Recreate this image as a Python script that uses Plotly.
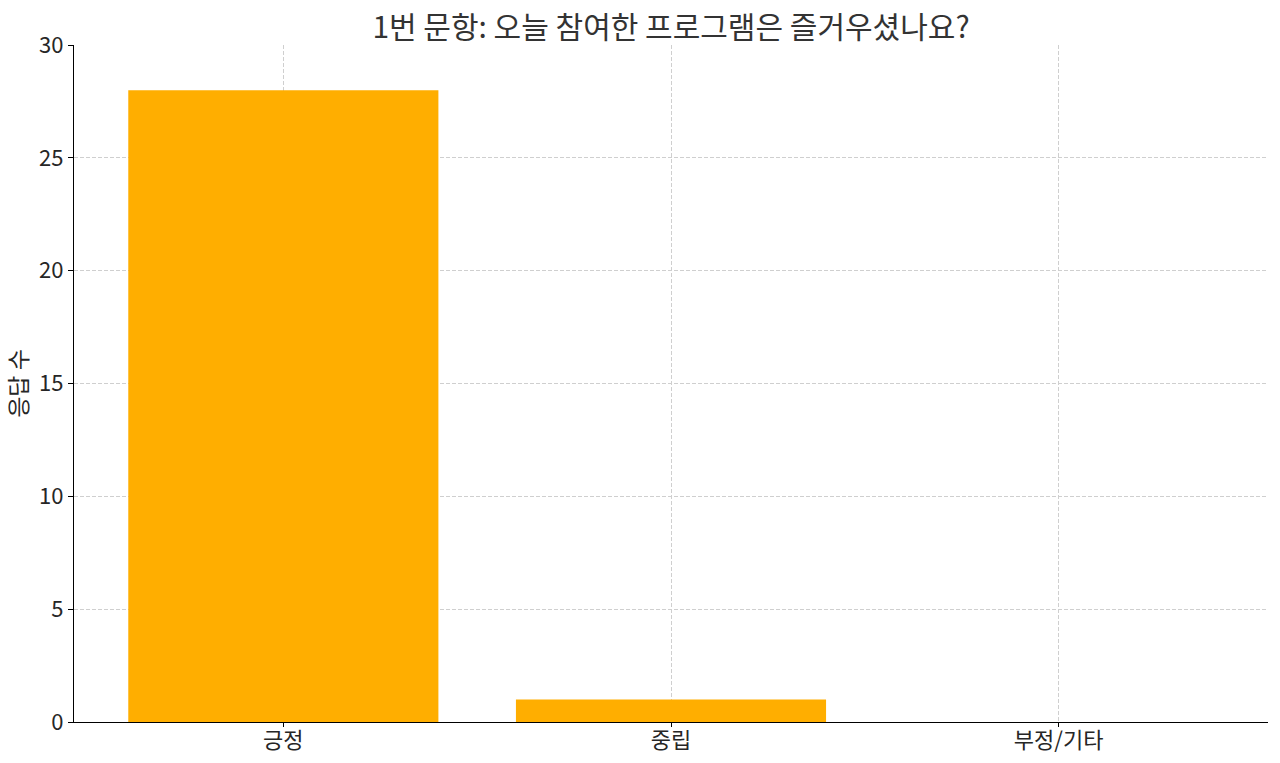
import plotly.graph_objects as go

# survey question 1 responses
categories = ["긍정", "중립", "부정/기타"]
counts = [28, 1, 0]
title_text = "1번 문항: 오늘 참여한 프로그램은 즐거우셨나요?"

fig = go.Figure(
    go.Bar(x=list(range(len(categories))), y=counts, width=0.8,
           marker=dict(color="#FFAE00", line=dict(width=0)))
)

font_name = "Noto Sans CJK KR"
fig.update_layout(
    width=1280, height=763,
    margin=dict(l=74, r=12, t=45, b=41),
    plot_bgcolor="white", paper_bgcolor="white",
    font=dict(family=font_name, size=22, color="#262626"),
    title=dict(text=title_text, xref="paper", x=0.5, xanchor="center",
               yref="container", y=1 - 27 / 763, yanchor="middle",
               font=dict(size=30, color="#333333")),
    showlegend=False,
)
fig.update_xaxes(
    range=[-0.54, 2.54], tickmode="array", tickvals=list(range(len(categories))),
    ticktext=categories, showline=True, linecolor="black", linewidth=1.3,
    ticks="outside", ticklen=4, tickcolor="black", automargin=False,
    showgrid=True, gridcolor="#cfcfcf", griddash="4px,2px", gridwidth=1,
    zeroline=False, tickfont=dict(size=22), ticklabelstandoff=-6,
)
fig.update_yaxes(
    range=[0, 30], dtick=5, showline=True, linecolor="black", linewidth=1.3,
    ticks="outside", ticklen=5, tickcolor="black", automargin=False,
    showgrid=True, gridcolor="#cfcfcf", griddash="4px,2px", gridwidth=1,
    zeroline=False, tickfont=dict(size=22),
    title=dict(text="응답 수", font=dict(size=23), standoff=16),
)

# drop the default page margin so the figure fills the window
fig.write_html("out.html", config={"displayModeBar": False},
               post_script="document.body.style.margin='0';")
